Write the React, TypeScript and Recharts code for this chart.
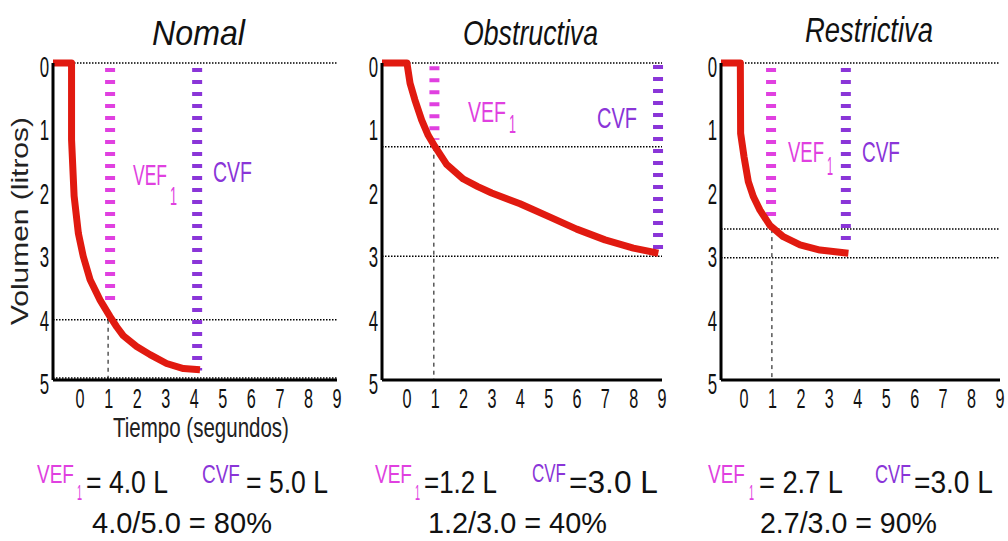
import React from "react"
import { LineChart, Line, XAxis, YAxis, ReferenceLine } from "recharts"

// curvas volumen-tiempo (segundos, litros)
const normalT = [-0.95, -0.3, -0.3, -0.21, -0.06, 0.11, 0.35, 0.7, 1.05, 1.28, 1.51, 1.98, 2.45, 3.03, 3.62, 4.2]
const normalV = [0, 0, 1.21, 2.1, 2.69, 3.05, 3.42, 3.74, 4.0, 4.16, 4.3, 4.47, 4.6, 4.74, 4.82, 4.84]

const obstrT = [-0.88, 0.0, 0.11, 0.28, 0.52, 0.75, 0.99, 1.4, 1.99, 2.5, 2.99, 3.99, 4.99, 5.99, 6.99, 7.99, 8.87]
const obstrV = [0, 0, 0.32, 0.58, 0.9, 1.14, 1.32, 1.6, 1.83, 1.95, 2.05, 2.22, 2.42, 2.62, 2.79, 2.92, 3.0]

const restrT = [-0.81, -0.13, -0.12, 0.0, 0.15, 0.33, 0.56, 0.91, 1.38, 1.97, 2.67, 3.67]
const restrV = [0, 0, 1.11, 1.48, 1.87, 2.11, 2.32, 2.56, 2.74, 2.87, 2.95, 3.0]

const yTicks = [0, 1, 2, 3, 4, 5]
const xTicks = [0, 1, 2, 3, 4, 5, 6, 7, 8, 9]

// lineas punteadas horizontales (litros)
const normalGrid = [0, 4.05, 4.97]
const obstrGrid = [0, 1.32, 3.05]
const restrGrid = [0, 2.62, 3.07]

// [tiempo, desde, hasta]
const normalVef1 = [1.05, 0.08, 3.75]
const normalCvf = [4.1, 0.08, 4.85]
const obstrVef1 = [0.97, 0.05, 1.21]
const obstrCvf = [8.86, 0.03, 3.0]
const restrVef1 = [0.95, 0.08, 2.52]
const restrCvf = [3.58, 0.08, 2.84]

// caida punteada a t = 1 s
const normalDrop = [0.98, 4.05, 5]
const obstrDrop = [0.95, 1.32, 5]
const restrDrop = [0.98, 2.62, 5]

const titles = ["Nomal", "Obstructiva", "Restrictiva"]
const vef1Text = ["= 4.0 L", "=1.2 L", "= 2.7 L"]
const cvfText = ["= 5.0 L", "=3.0 L", "=3.0 L"]
const ratioText = ["4.0/5.0 = 80%", "1.2/3.0 = 40%", "2.7/3.0 = 90%"]

const RED = "#e11a10"
const MAGENTA = "#e040e0"
const PURPLE = "#8a35d8"
const FONT = "'Liberation Sans', Arial, sans-serif"

const toRows = (t: number[], v: number[]) => t.map((x, i) => ({ t: x, v: v[i] }))

const panels = [
  { t: normalT, v: normalV, xMin: -0.95, left: 53, right: 337, grid: normalGrid, vef1: normalVef1, cvf: normalCvf, drop: normalDrop },
  { t: obstrT, v: obstrV, xMin: -0.88, left: 382, right: 662, grid: obstrGrid, vef1: obstrVef1, cvf: obstrCvf, drop: obstrDrop },
  { t: restrT, v: restrV, xMin: -0.81, left: 721, right: 1000, grid: restrGrid, vef1: restrVef1, cvf: restrCvf, drop: restrDrop },
]

// mide el ancho natural para estrechar el texto con scale()
let ctx: CanvasRenderingContext2D | null = null
const measure = (txt: string, size: number, italic?: boolean) => {
  if (!ctx) ctx = document.createElement("canvas").getContext("2d")
  if (!ctx) return txt.length * size * 0.55
  ctx.font = `${italic ? "italic " : ""}${size}px ${FONT}`
  return ctx.measureText(txt).width
}

const YTick = ({ x, y, payload }: any) => (
  <g transform={`translate(${x},${y})`}>
    <text transform="scale(0.58,1)" textAnchor="end" y={14} fontSize={29} fontFamily={FONT} fill="#111">
      {payload.value}
    </text>
  </g>
)

const XTick = ({ x, y, payload }: any) => (
  <g transform={`translate(${x},${y})`}>
    <text transform="scale(0.6,1)" textAnchor="middle" y={28} fontSize={27} fontFamily={FONT} fill="#111">
      {payload.value}
    </text>
  </g>
)

const T = ({ x, y, w, size, color = "#111", italic, children }: any) => {
  const sx = w / measure(String(children), size, italic)
  return (
    <text
      transform={`translate(${x},${y}) scale(${sx.toFixed(3)},1)`}
      fontSize={size}
      fill={color}
      fontFamily={FONT}
      fontStyle={italic ? "italic" : "normal"}
    >
      {children}
    </text>
  )
}

function Panel({ p }: { p: any }) {
  const width = 45 + (p.right - p.left) + 12
  const seg = (s: number[]) => [
    { x: s[0], y: s[1] },
    { x: s[0], y: s[2] },
  ]
  return (
    <div style={{ position: "absolute", left: p.left - 45, top: 0 }}>
      <LineChart width={width} height={450} data={toRows(p.t, p.v)} margin={{ top: 63, right: 12, bottom: 30, left: 15 }}>
        <XAxis
          type="number"
          dataKey="t"
          domain={[p.xMin, 9]}
          ticks={xTicks}
          allowDataOverflow
          height={40}
          tickSize={0}
          tickMargin={0}
          axisLine={{ stroke: "#000", strokeWidth: 3 }}
          tick={(props: any) => <XTick {...props} />}
          interval={0}
        />
        <YAxis
          type="number"
          domain={[0, 5]}
          reversed
          ticks={yTicks}
          width={30}
          tickSize={0}
          tickMargin={4}
          axisLine={{ stroke: "#000", strokeWidth: 3 }}
          tick={(props: any) => <YTick {...props} />}
          interval={0}
        />
        {p.grid.map((g: number) => (
          <ReferenceLine key={g} y={g} stroke="#000" strokeWidth={1.5} strokeDasharray="1.5 1.5" />
        ))}
        <ReferenceLine segment={seg(p.drop)} stroke="#000" strokeWidth={1} strokeDasharray="4 4" />
        <ReferenceLine segment={seg(p.vef1)} stroke={MAGENTA} strokeWidth={10} strokeDasharray="4 8" />
        <ReferenceLine segment={seg(p.cvf)} stroke={PURPLE} strokeWidth={10} strokeDasharray="4 8" />
        <Line
          type="linear"
          dataKey="v"
          stroke={RED}
          strokeWidth={7}
          strokeLinejoin="round"
          dot={false}
          activeDot={false}
          isAnimationActive={false}
        />
      </LineChart>
    </div>
  )
}

export default function App() {
  return (
    <div style={{ position: "absolute", left: 0, top: 0, width: 1008, height: 541, background: "#fff", overflow: "hidden" }}>
      {panels.map((p, i) => (
        <Panel key={i} p={p} />
      ))}
      <svg width={1008} height={541} style={{ position: "absolute", left: 0, top: 0, pointerEvents: "none" }}>
        {/* titulos */}
        <T x={152} y={45} w={93} size={35} italic>{titles[0]}</T>
        <T x={463} y={45} w={135} size={35} italic>{titles[1]}</T>
        <T x={805} y={42} w={128} size={35} italic>{titles[2]}</T>

        {/* ejes */}
        <g transform="translate(28,325) rotate(-90)">
          <T x={0} y={0} w={208} size={23} color="#222">Volumen (litros)</T>
        </g>
        <T x={113} y={437} w={176} size={27} color="#222">Tiempo (segundos)</T>

        {/* etiquetas dentro de los graficos */}
        <T x={133} y={185} w={34} size={29} color={MAGENTA}>VEF</T>
        <T x={170} y={205} w={7} size={25} color={MAGENTA}>1</T>
        <T x={213} y={182} w={39} size={29} color={PURPLE}>CVF</T>

        <T x={468} y={122} w={38} size={29} color={MAGENTA}>VEF</T>
        <T x={509} y={133} w={7} size={25} color={MAGENTA}>1</T>
        <T x={597} y={128} w={40} size={29} color={PURPLE}>CVF</T>

        <T x={788} y={162} w={36} size={29} color={MAGENTA}>VEF</T>
        <T x={827} y={175} w={6} size={25} color={MAGENTA}>1</T>
        <T x={862} y={162} w={38} size={29} color={PURPLE}>CVF</T>

        {/* valores */}
        <T x={37} y={483} w={37} size={25} color={MAGENTA}>VEF</T>
        <T x={77} y={500} w={5} size={22} color={MAGENTA}>1</T>
        <T x={86} y={493} w={82} size={32}>{vef1Text[0]}</T>
        <T x={202} y={483} w={38} size={25} color={PURPLE}>CVF</T>
        <T x={246} y={493} w={82} size={32}>{cvfText[0]}</T>
        <T x={92} y={533} w={180} size={30}>{ratioText[0]}</T>

        <T x={375} y={483} w={37} size={25} color={MAGENTA}>VEF</T>
        <T x={415} y={500} w={5} size={22} color={MAGENTA}>1</T>
        <T x={424} y={493} w={73} size={32}>{vef1Text[1]}</T>
        <T x={532} y={482} w={34} size={25} color={PURPLE}>CVF</T>
        <T x={569} y={493} w={89} size={32}>{cvfText[1]}</T>
        <T x={428} y={533} w={179} size={30}>{ratioText[1]}</T>

        <T x={708} y={483} w={37} size={25} color={MAGENTA}>VEF</T>
        <T x={749} y={500} w={5} size={22} color={MAGENTA}>1</T>
        <T x={759} y={493} w={84} size={32}>{vef1Text[2]}</T>
        <T x={875} y={483} w={36} size={25} color={PURPLE}>CVF</T>
        <T x={914} y={493} w={79} size={32}>{cvfText[2]}</T>
        <T x={760} y={533} w={177} size={30}>{ratioText[2]}</T>
      </svg>
    </div>
  )
}
